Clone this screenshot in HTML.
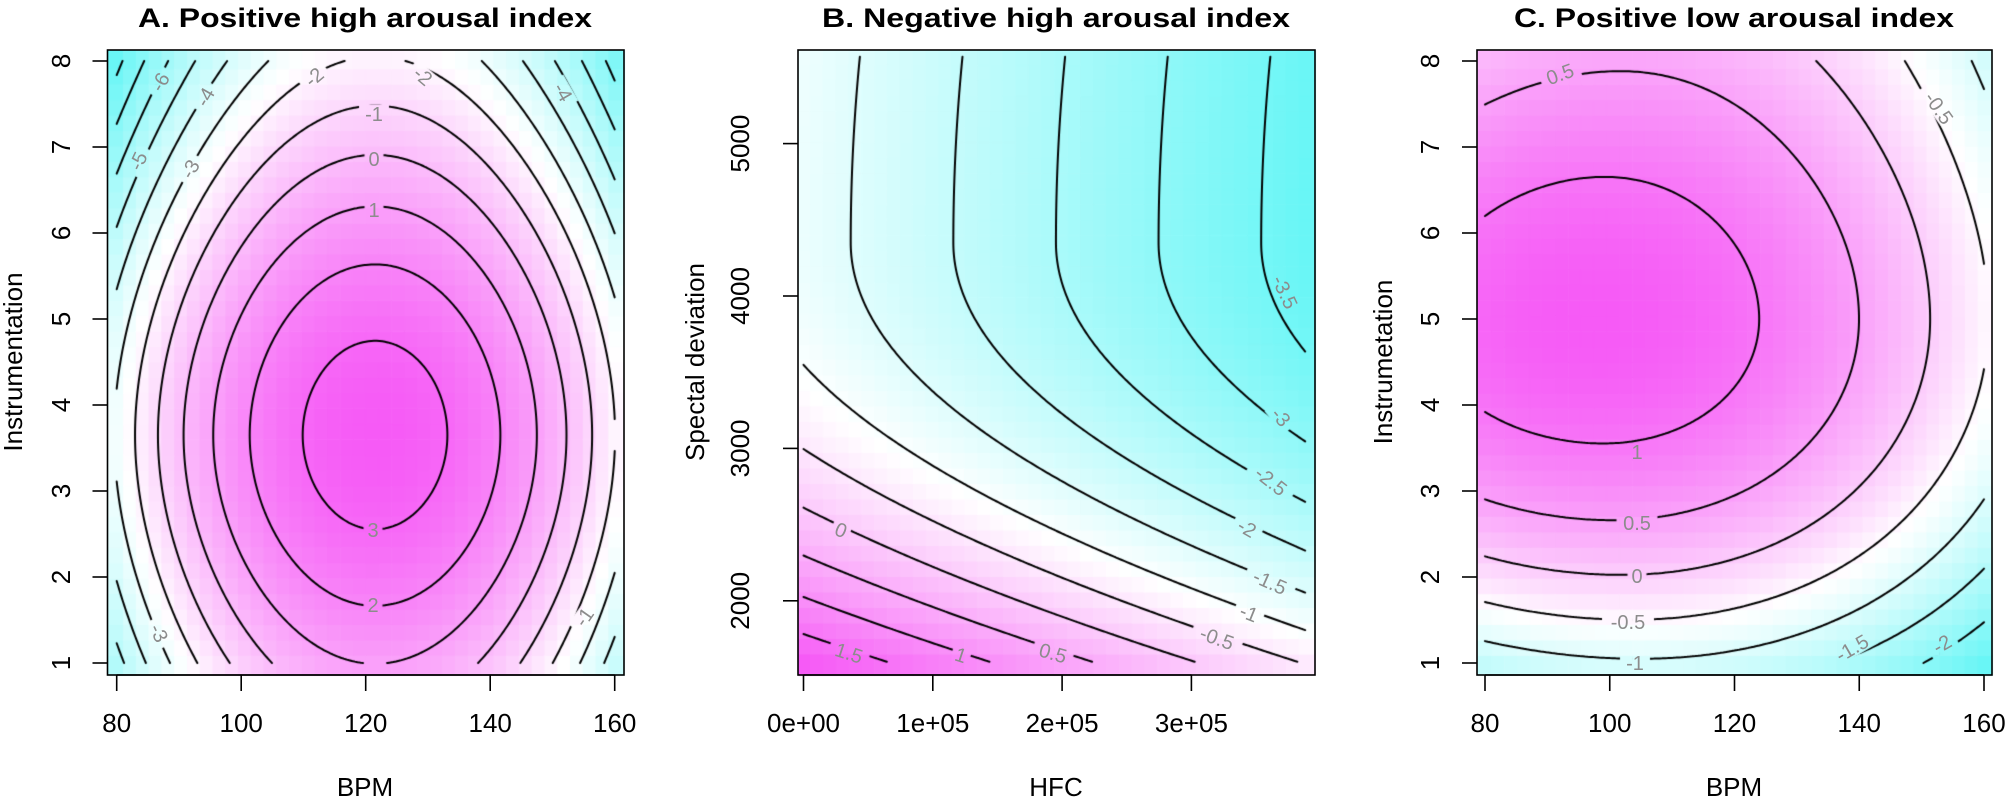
<!DOCTYPE html>
<html><head><meta charset="utf-8"><style>
html,body{margin:0;padding:0;background:#fff;}
#wrap{position:relative;width:2007px;height:803px;overflow:hidden;}
canvas,svg{position:absolute;left:0;top:0;}
text{font-family:"Liberation Sans",Arial,sans-serif;}
</style></head><body><div id="wrap">
<canvas id="c" width="2007" height="803"></canvas>
<svg id="s" width="2007" height="803" viewBox="0 0 2007 803" xmlns="http://www.w3.org/2000/svg">
<g fill="none" stroke="#000" stroke-width="1.6">
<rect x="107.5" y="50" width="516.5" height="625"/>
<rect x="798" y="50" width="517" height="625"/>
<rect x="1477" y="50" width="515" height="625"/>
</g>
<g id="ticks" stroke="#000" stroke-width="1.6"></g>
<g id="lbl" font-size="26" fill="#000"></g>
<g font-size="27" font-weight="bold" text-anchor="middle" fill="#000">
<text x="365" y="27" textLength="454" lengthAdjust="spacingAndGlyphs">A. Positive high arousal index</text>
<text x="1056" y="27" textLength="468" lengthAdjust="spacingAndGlyphs">B. Negative high arousal index</text>
<text x="1734" y="27" textLength="440" lengthAdjust="spacingAndGlyphs">C. Positive low arousal index</text>
</g>
<g font-size="26" text-anchor="middle" fill="#000">
<text x="365" y="796">BPM</text>
<text x="1056" y="796">HFC</text>
<text x="1734" y="796">BPM</text>
<text transform="translate(22,362) rotate(-90)">Instrumentation</text>
<text transform="translate(704,362) rotate(-90)">Spectal deviation</text>
<text transform="translate(1392,362) rotate(-90)">Instrumetation</text>
</g>
<g id="clbl" font-size="20" fill="#8c8c8c" text-anchor="middle"></g>
</svg>
</div>
<script>
(function(){
var W=2007,H=803;
function fA(x,y){var u=y-3.65;var b=0.46-0.04*Math.abs(u);return 3.5-b*u*u-0.0037*(x-121.5)*(x-121.5);}
function fB(X,Y){var t=Y<4.35?0.42*(4.35-Y)*(4.35-Y):0.03*(Y-4.35)*(Y-4.35);return -1.27-0.63*X+t;}
function fC(x,y){var x0=98+0.44*(y-5)*(y-5);var u=y-5;var g;
 if(u>0){g=1.31-(0.135-0.013*u)*u*u;}else{g=1.31-0.148*u*u;}
 var a=x>x0?0.00046:0.0004;return g-a*(x-x0)*(x-x0);}
function rng(a,b,s){var r=[];for(var v=a;v<=b+1e-9;v+=s)r.push(Math.round(v*100)/100);return r;}
var yA=function(y){return 663-(y-1)*86;};
var P=[
 {f:fA,box:[107.5,50,624,675],xp:function(x){return 116.7+(x-80)*6.225;},yp:yA,xr:[80,160],yr:[1,8],lv:rng(-8,3,1)},
 {f:fB,box:[798,50,1315,675],xp:function(X){return 803.5+X*129.3;},yp:function(Y){return 600.8-(Y-2)*152.4;},xr:[0,3.88],yr:[1.6,5.57],lv:rng(-3.5,1.5,0.5)},
 {f:fC,box:[1477,50,1992,675],xp:function(x){return 1485+(x-80)*6.2375;},yp:yA,xr:[80,160],yr:[1,8],lv:rng(-2,1,0.5)}
];
var cv=document.getElementById('c'),ctx=cv.getContext('2d');
var heat=document.createElement('canvas');heat.width=W;heat.height=H;var hc=heat.getContext('2d');
var lo=[105,246,246],hi=[246,90,246];
function col(t){t=Math.max(0,Math.min(1,t));var r,g,b;
 if(t<0.5){var s=t*2;r=lo[0]+(255-lo[0])*s;g=lo[1]+(255-lo[1])*s;b=lo[2]+(255-lo[2])*s;}
 else{var s=(t-0.5)*2;r=255+(hi[0]-255)*s;g=255+(hi[1]-255)*s;b=255+(hi[2]-255)*s;}
 return 'rgb('+Math.round(r)+','+Math.round(g)+','+Math.round(b)+')';}
P.forEach(function(p){
 var nx=40,ny=40,i,j,mn=1e9,mx=-1e9,gx=[],gy=[];
 for(i=0;i<nx;i++)gx.push(p.xr[0]+i*(p.xr[1]-p.xr[0])/(nx-1));
 for(j=0;j<ny;j++)gy.push(p.yr[0]+j*(p.yr[1]-p.yr[0])/(ny-1));
 var V=[];for(i=0;i<nx;i++){V.push([]);for(j=0;j<ny;j++){var v=p.f(gx[i],gy[j]);V[i].push(v);if(v<mn)mn=v;if(v>mx)mx=v;}}
 var bx=p.box;
 for(i=0;i<nx;i++){var xl=i==0?bx[0]:(p.xp(gx[i])+p.xp(gx[i-1]))/2,xr=i==nx-1?bx[2]:(p.xp(gx[i])+p.xp(gx[i+1]))/2;
  for(j=0;j<ny;j++){var yb=j==0?bx[3]:(p.yp(gy[j])+p.yp(gy[j-1]))/2,yt=j==ny-1?bx[1]:(p.yp(gy[j])+p.yp(gy[j+1]))/2;
   hc.fillStyle=col((V[i][j]-mn)/(mx-mn));hc.fillRect(xl,yt,xr-xl+0.6,yb-yt+0.6);}}
});
ctx.drawImage(heat,0,0);
ctx.strokeStyle='#000';ctx.lineWidth=2;ctx.lineCap='round';
P.forEach(function(p){
 var N=180,i,j,G=[],X=[],Y=[];
 for(i=0;i<=N;i++){X.push(p.xr[0]+i*(p.xr[1]-p.xr[0])/N);Y.push(p.yr[0]+i*(p.yr[1]-p.yr[0])/N);}
 for(i=0;i<=N;i++){G.push([]);for(j=0;j<=N;j++)G[i].push(p.f(X[i],Y[j]));}
 ctx.beginPath();
 p.lv.forEach(function(L){
  for(i=0;i<N;i++)for(j=0;j<N;j++){
   var c=[[i,j],[i+1,j],[i+1,j+1],[i,j+1]];var pts=[];
   for(var k=0;k<4;k++){var a=c[k],b=c[(k+1)%4];var va=G[a[0]][a[1]]-L,vb=G[b[0]][b[1]]-L;
    if((va<0)!=(vb<0)){var t=va/(va-vb);var xi=a[0]+(b[0]-a[0])*t,yi=a[1]+(b[1]-a[1])*t;
     var xv=p.xr[0]+xi*(p.xr[1]-p.xr[0])/N,yv=p.yr[0]+yi*(p.yr[1]-p.yr[0])/N;pts.push([p.xp(xv),p.yp(yv)]);}}
   for(var m=0;m+1<pts.length;m+=2){ctx.moveTo(pts[m][0],pts[m][1]);ctx.lineTo(pts[m+1][0],pts[m+1][1]);}
  }
 });
 ctx.stroke();
});
var labels=[
 [160,82,-60,'-6'],[205,97,-60,'-4'],[138,161,-65,'-5'],[190,169,-60,'-3'],[314,77,-40,'-2'],[423,76,40,'-2'],
 [374,114,0,'-1'],[374,159,0,'0'],[374,210,0,'1'],[563,92,60,'-4'],[373,530,0,'3'],[373,605,0,'2'],[159,633,65,'-3'],[584,617,-55,'-1'],
 [1285,292,65,'-3.5'],[1281,417,50,'-3'],[1271,481,38,'-2.5'],[1247,528,30,'-2'],[1270,582,24,'-1.5'],[1249,613,22,'-1'],[1217,638,20,'-0.5'],
 [841,530,22,'0'],[849,653,18,'1.5'],[961,655,18,'1'],[1053,653,16,'0.5'],
 [1560,74,-20,'0.5'],[1939,108,55,'-0.5'],[1637,452,0,'1'],[1637,523,0,'0.5'],[1637,576,0,'0'],[1628,622,0,'-0.5'],[1635,663,0,'-1'],[1852,648,-30,'-1.5'],[1942,644,-30,'-2']
];
var g=document.getElementById('clbl'),NS='http://www.w3.org/2000/svg';
labels.forEach(function(l){
 var w=l[3].length*11+8,h=18,r=l[2]*Math.PI/180;
 ctx.save();ctx.translate(l[0],l[1]);ctx.rotate(r);ctx.beginPath();ctx.rect(-w/2,-h/2,w,h);ctx.clip();
 ctx.rotate(-r);ctx.translate(-l[0],-l[1]);ctx.drawImage(heat,0,0);ctx.restore();
 var t=document.createElementNS(NS,'text');t.setAttribute('transform','translate('+l[0]+','+(l[1])+') rotate('+l[2]+')');
 t.setAttribute('y','7');t.textContent=l[3];g.appendChild(t);
});
var tk=document.getElementById('ticks'),lb=document.getElementById('lbl');
function line(x1,y1,x2,y2){var e=document.createElementNS(NS,'line');e.setAttribute('x1',x1);e.setAttribute('y1',y1);e.setAttribute('x2',x2);e.setAttribute('y2',y2);tk.appendChild(e);}
function txt(x,y,s,rot){var e=document.createElementNS(NS,'text');e.setAttribute('text-anchor','middle');
 if(rot){e.setAttribute('transform','translate('+x+','+y+') rotate(-90)');e.setAttribute('y','9');}
 else{e.setAttribute('x',x);e.setAttribute('y',y);}e.textContent=s;lb.appendChild(e);}
[[P[0],[80,100,120,140,160],function(v){return ''+v;}],[P[2],[80,100,120,140,160],function(v){return ''+v;}],
 [P[1],[0,1,2,3],function(v){return v+'e+0'+(v==0?'0':'5');}]].forEach(function(a){
 var p=a[0];a[1].forEach(function(v){var x=p.xp(v);line(x,675,x,691);txt(x,732,a[2](v),false);});
 line(p.xp(a[1][0]),675,p.xp(a[1][a[1].length-1]),675);
});
[[P[0],[1,2,3,4,5,6,7,8],61],[P[2],[1,2,3,4,5,6,7,8],1430]].forEach(function(a){var p=a[0];
 a[1].forEach(function(v){var y=p.yp(v);line(p.box[0],y,p.box[0]-15,y);txt(a[2],y,''+v,true);});});
[2,3,4,5].forEach(function(v){var y=P[1].yp(v);line(798,y,783,y);txt(740,y,(v*1000)+'',true);});
})();
</script>
</body></html>
